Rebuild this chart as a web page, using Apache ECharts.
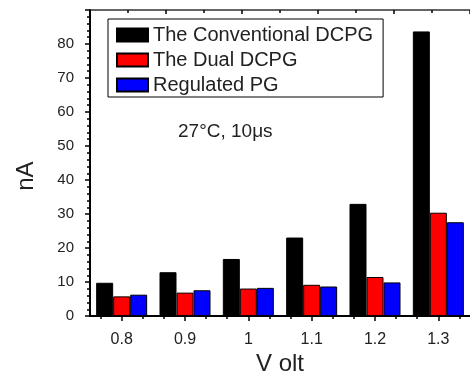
<!DOCTYPE html>
<html>
<head>
<meta charset="utf-8">
<script src="https://cdn.jsdelivr.net/npm/echarts@6/dist/echarts.min.js"></script>
<style>
  html, body { margin: 0; padding: 0; background: #fff; }
  #chart { width: 470px; height: 381px; }
</style>
</head>
<body>
<div id="chart"></div>
<script>
// values (nA)
const volts = ['0.8', '0.9', '1', '1.1', '1.2', '1.3'];
const conventional = [9.8, 12.9, 16.8, 23.1, 33.0, 83.7];
const dual = [5.8, 6.9, 8.1, 9.2, 11.5, 30.4];
const regulated = [6.3, 7.6, 8.3, 8.7, 9.9, 27.6];
const seriesNames = ['The Conventional DCPG', 'The Dual DCPG', 'Regulated PG'];
const seriesColors = ['#000000', '#ff0000', '#0000ff'];

const font = '"Liberation Sans", Arial, sans-serif';
const textColor = '#222';

// helper category axis: three minor ticks per voltage step
const minorSlots = [];
volts.forEach((v) => minorSlots.push(v + 'a', v, v + 'b'));

const chart = echarts.init(document.getElementById('chart'));

function bar(name, values, color) {
  return {
    name: name,
    type: 'bar',
    xAxisIndex: 0,
    yAxisIndex: 0,
    data: values,
    barWidth: 17,
    barGap: '0%',
    itemStyle: {color: color, borderColor: '#000', borderWidth: 1},
  };
}

chart.setOption({
  animation: false,
  textStyle: {fontFamily: font},
  grid: {left: 90, top: 10, width: 387, height: 314},
  legend: {
    orient: 'vertical',
    left: 108,
    top: 19,
    padding: [6, 10, 2, 8],
    itemGap: 5,
    itemWidth: 31,
    itemHeight: 13,
    borderColor: '#000',
    borderWidth: 1,
    backgroundColor: '#fff',
    icon: 'rect',
    data: seriesNames,
    textStyle: {fontSize: 20, color: textColor, fontFamily: font, padding: [0, 0, 0, 0]},
  },
  xAxis: [
    {
      type: 'category',
      data: volts,
      position: 'bottom',
      boundaryGap: true,
      name: 'V olt',
      nameLocation: 'middle',
      nameGap: 32,
      nameTextStyle: {fontSize: 24, color: textColor, fontFamily: font},
      axisLine: {show: true, lineStyle: {color: '#000', width: 2}},
      axisTick: {show: true, alignWithLabel: true, inside: false, length: 5, lineStyle: {color: '#000', width: 1.5}},
      axisLabel: {fontSize: 16, color: textColor, margin: 15, fontFamily: font},
      splitLine: {show: false},
    },
    {
      type: 'category',
      data: minorSlots,
      position: 'bottom',
      offset: 0,
      boundaryGap: true,
      axisLine: {show: false},
      axisTick: {show: true, alignWithLabel: true, interval: 0, length: 3, lineStyle: {color: '#000', width: 1.5}},
      axisLabel: {show: false},
      splitLine: {show: false},
    },
    {
      type: 'value',
      position: 'top',
      min: 0,
      max: 10,
      interval: 2,
      axisLine: {show: true, lineStyle: {color: '#333', width: 1.5}},
      axisTick: {show: true, inside: true, length: 4, lineStyle: {color: '#000', width: 1.5}},
      minorTick: {show: true, splitNumber: 2, length: 3, lineStyle: {color: '#000', width: 1.5}},
      axisLabel: {show: false},
      splitLine: {show: false},
    },
  ],
  yAxis: [
    {
      type: 'value',
      min: 0,
      max: 90,
      interval: 10,
      name: 'nA',
      nameLocation: 'middle',
      nameGap: 52,
      nameTextStyle: {fontSize: 24, color: textColor, fontFamily: font, padding: [0, 26, 0, 0]},
      axisLine: {show: true, lineStyle: {color: '#000', width: 2}},
      axisTick: {show: true, inside: false, length: 5, lineStyle: {color: '#000', width: 1.5}},
      minorTick: {show: true, splitNumber: 5, length: 3, lineStyle: {color: '#000', width: 1.5}},
      axisLabel: {fontSize: 15, color: textColor, margin: 16, fontFamily: font, showMaxLabel: false},
      splitLine: {show: false},
    },
  ],
  graphic: [
    {
      type: 'text',
      left: 178,
      top: 122,
      style: {text: '27°C, 10μs', fontSize: 19, fill: textColor, fontFamily: font},
    },
  ],
  series: [
    bar(seriesNames[0], conventional, seriesColors[0]),
    bar(seriesNames[1], dual, seriesColors[1]),
    bar(seriesNames[2], regulated, seriesColors[2]),
  ],
});
</script>
</body>
</html>
